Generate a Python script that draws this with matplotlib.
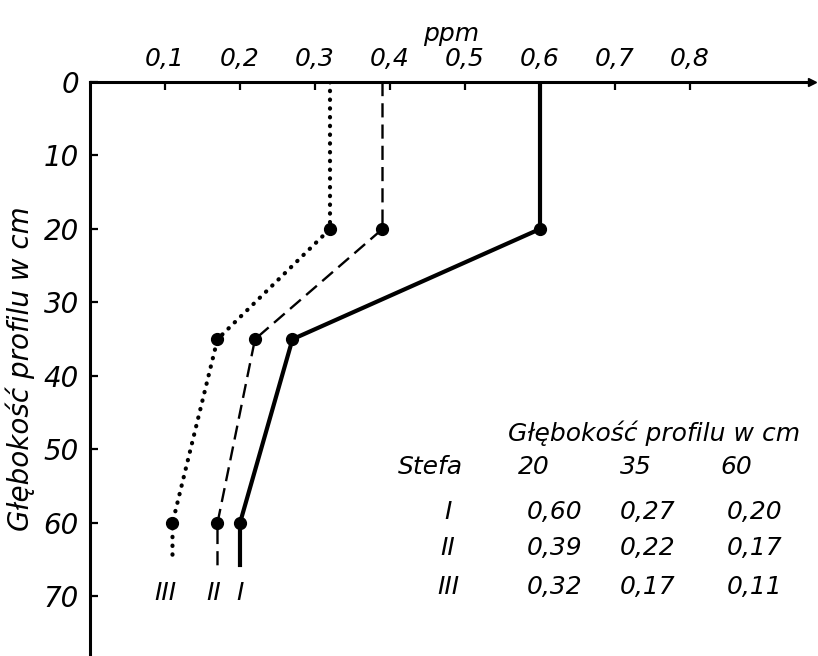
import matplotlib.pyplot as plt
import matplotlib.font_manager as fm

# stezenie (ppm) na glebokosciach 20, 35, 60 cm
glebokosc = [20, 35, 60]
strefa_I = [0.60, 0.27, 0.20]
strefa_II = [0.39, 0.22, 0.17]
strefa_III = [0.32, 0.17, 0.11]
strefy = ["I", "II", "III"]
koniec_linii = 66

xticks = [0.1, 0.2, 0.3, 0.4, 0.5, 0.6, 0.7, 0.8]
yticks = [0, 10, 20, 30, 40, 50, 60, 70]

names = {f.name for f in fm.fontManager.ttflist}
fam = "Liberation Sans Narrow" if "Liberation Sans Narrow" in names else "DejaVu Sans"
plt.rcParams['font.family'] = [fam, 'DejaVu Sans']
plt.rcParams['font.style'] = 'italic'

fig = plt.figure(figsize=(8.18, 6.56), dpi=100)
ax = fig.add_axes([0.110, 0.0, 0.883, 0.875])

ax.set_xlim(0, 0.963)
ax.set_ylim(78.1, 0)

def profil(v):
    d = [0] + glebokosc + [koniec_linii]
    x = [v[0]] + v + [v[-1]]
    return x, d

x, d = profil(strefa_I)
ax.plot(x, d, color='black', lw=3.0, solid_capstyle='butt')
ax.plot(strefa_I, glebokosc, 'o', color='black', ms=8.5)

x, d = profil(strefa_II)
ax.plot(x, d, color='black', lw=1.7, linestyle=(0, (6, 3)))
ax.plot(strefa_II, glebokosc, 'o', color='black', ms=8.5)

x, d = profil(strefa_III)
ax.plot(x, d[:-1] + [koniec_linii - 1], color='black', lw=3.0,
        linestyle=(0, (0.1, 2.0)), dash_capstyle='round')
ax.plot(strefa_III, glebokosc, 'o', color='black', ms=8.5)

# etykiety stref pod liniami
for v, s, dx in zip([strefa_I, strefa_II, strefa_III], strefy, [0.0, -0.005, -0.01]):
    ax.text(v[-1] + dx, 69.5, s, ha='center', va='center', fontsize=18)

# osie
for s in ['right', 'bottom']:
    ax.spines[s].set_visible(False)
ax.spines['top'].set_linewidth(2.2)
ax.spines['left'].set_linewidth(2.2)
ax.plot(1, 1, '>', color='black', ms=6, transform=ax.transAxes, clip_on=False)

ax.xaxis.tick_top()
ax.xaxis.set_label_position('top')
ax.set_xticks(xticks)
ax.set_xticklabels([str(t).replace('.', ',') for t in xticks], fontsize=18)
ax.set_yticks(yticks)
ax.set_yticklabels([str(t) for t in yticks], fontsize=20)
ax.tick_params(axis='x', direction='in', length=6, width=1.6, pad=8)
ax.tick_params(axis='y', direction='in', length=6, width=1.6, pad=8)

ax.set_xlabel("ppm", fontsize=18, labelpad=4)
ax.set_ylabel("Głębokość profilu w cm", fontsize=20, labelpad=6)

# tabela
fs = 18
fig.text(508 / 818, 1 - 433 / 656, "Głębokość profilu w cm", fontsize=fs, va='center')
fig.text(398 / 818, 1 - 467 / 656, "Stefa", fontsize=fs, va='center')
for g, xp in zip(glebokosc, [518, 620, 720]):
    fig.text(xp / 818, 1 - 467 / 656, str(g), fontsize=fs, va='center')
for s, vals, yp in zip(strefy, [strefa_I, strefa_II, strefa_III], [512, 548, 587]):
    fig.text(448 / 818, 1 - yp / 656, s, fontsize=fs, va='center', ha='center')
    for v, xp in zip(vals, [527, 620, 727]):
        fig.text(xp / 818, 1 - yp / 656, f"{v:.2f}".replace('.', ','), fontsize=fs, va='center')

fig.savefig("out.png", dpi=100)
